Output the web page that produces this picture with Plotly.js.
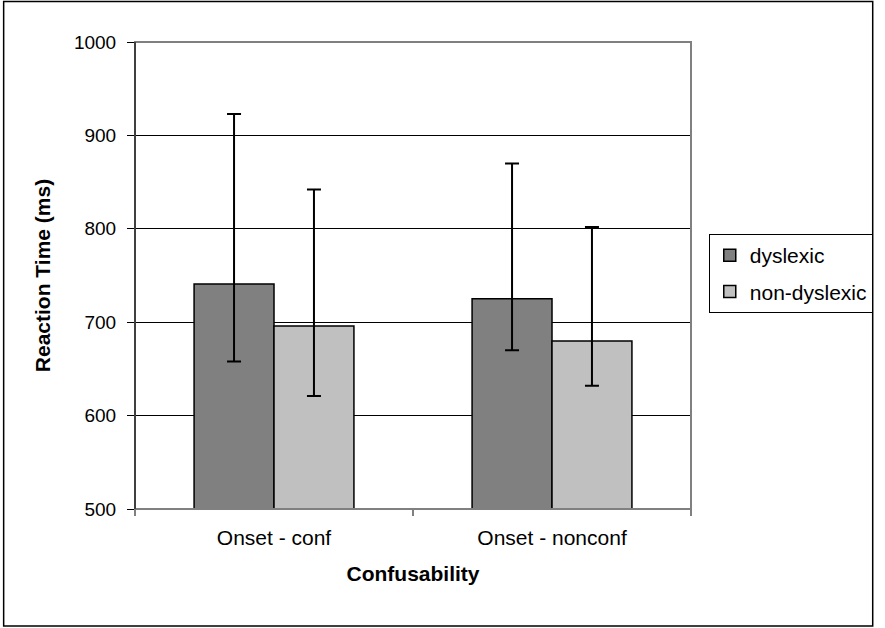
<!DOCTYPE html>
<html>
<head>
<meta charset="utf-8">
<script src="https://cdn.plot.ly/plotly-3.0.1.min.js"></script>
<style>
  html, body { margin: 0; padding: 0; background: #ffffff; }
  #chart { width: 885px; height: 628px; }
</style>
</head>
<body>
<div id="chart"></div>
<script>
// ---- data ----
const categories = ["Onset - conf", "Onset - nonconf"];
const seriesNames = ["dyslexic", "non-dyslexic"];
const dyslexicMean = [741, 725];
const dyslexicUpper = [923, 870];
const dyslexicLower = [658, 670];
const nonDyslexicMean = [696, 680];
const nonDyslexicUpper = [842, 802];
const nonDyslexicLower = [621, 632];
const yTicks = [500, 600, 700, 800, 900, 1000];

// ---- geometry (pixels) ----
const W = 885, H = 628;
const plotL = 135, plotR = 698, plotT = 42, plotB = 509;
const pw = plotR - plotL, ph = plotB - plotT;
const px = x => (x - plotL) / pw;
const py = y => (plotB - y) / ph;

function errPlus(mean, upper) { return mean.map((m, i) => upper[i] - m); }
function errMinus(mean, lower) { return mean.map((m, i) => m - lower[i]); }

const barLine = { color: "#000000", width: 1.5 };
const errStyle = { type: "data", symmetric: false, color: "#000000", thickness: 2, width: 7 };

const traces = [
  {
    type: "bar", name: seriesNames[0], x: categories, y: dyslexicMean,
    marker: { color: "#808080", line: barLine },
    error_y: Object.assign({}, errStyle, { array: errPlus(dyslexicMean, dyslexicUpper), arrayminus: errMinus(dyslexicMean, dyslexicLower) }),
    legendgroup: "a", hoverinfo: "skip"
  },
  {
    type: "bar", name: seriesNames[1], x: categories, y: nonDyslexicMean,
    marker: { color: "#C0C0C0", line: barLine },
    error_y: Object.assign({}, errStyle, { array: errPlus(nonDyslexicMean, nonDyslexicUpper), arrayminus: errMinus(nonDyslexicMean, nonDyslexicLower) }),
    legendgroup: "b", hoverinfo: "skip"
  }
];

const font = "Liberation Sans, Arial, sans-serif";

const layout = {
  width: W, height: H,
  margin: { l: plotL, r: W - plotR, t: plotT, b: H - plotB, pad: 0 },
  paper_bgcolor: "#ffffff", plot_bgcolor: "#ffffff",
  font: { family: font, color: "#000000" },
  barmode: "group", bargap: 0.425, bargroupgap: 0,
  showlegend: true,
  legend: {
    x: px(716), y: py(234), xanchor: "left", yanchor: "top",
    bordercolor: "#000000", borderwidth: 1, bgcolor: "#ffffff",
    font: { family: font, size: 21, color: "#000000" },
    traceorder: "grouped", tracegroupgap: 6,
    itemwidth: 30
  },
  xaxis: {
    type: "category",
    tickson: "boundaries", ticks: "outside", ticklen: 6, tickcolor: "#808080", tickwidth: 1.5,
    showline: false, showgrid: false, zeroline: false,
    tickfont: { family: font, size: 21, color: "#000000" },
    ticklabelstandoff: 14,
    title: { text: "<b>Confusability</b>", font: { family: font, size: 21, color: "#000000" }, standoff: 18 }
  },
  yaxis: {
    range: [500, 1000], tickvals: yTicks, ticktext: yTicks.map(String),
    ticks: "outside", ticklen: 7, tickcolor: "#000000", tickwidth: 1,
    showgrid: true, gridcolor: "#000000", gridwidth: 1,
    zeroline: false, showline: false,
    tickfont: { family: font, size: 19, color: "#000000" },
    ticklabelstandoff: 7,
    title: { text: "<b>Reaction Time (ms)</b>", font: { family: font, size: 21, color: "#000000" }, standoff: 17 }
  },
  shapes: [
    { type: "rect", xref: "paper", yref: "paper", x0: 0, x1: 1, y0: 0, y1: 1,
      line: { color: "#808080", width: 2 }, layer: "above" },
    { type: "line", xref: "paper", yref: "paper", x0: 0, x1: 0, y0: 0, y1: 1,
      line: { color: "#404040", width: 2 }, layer: "above" },
    { type: "rect", xref: "paper", yref: "paper",
      x0: px(2), x1: px(882), y0: py(626), y1: py(1.5),
      line: { color: "#000000", width: 1.5 }, layer: "above" }
  ]
};

Plotly.newPlot("chart", traces, layout, { staticPlot: true, displayModeBar: false });
</script>
</body>
</html>
